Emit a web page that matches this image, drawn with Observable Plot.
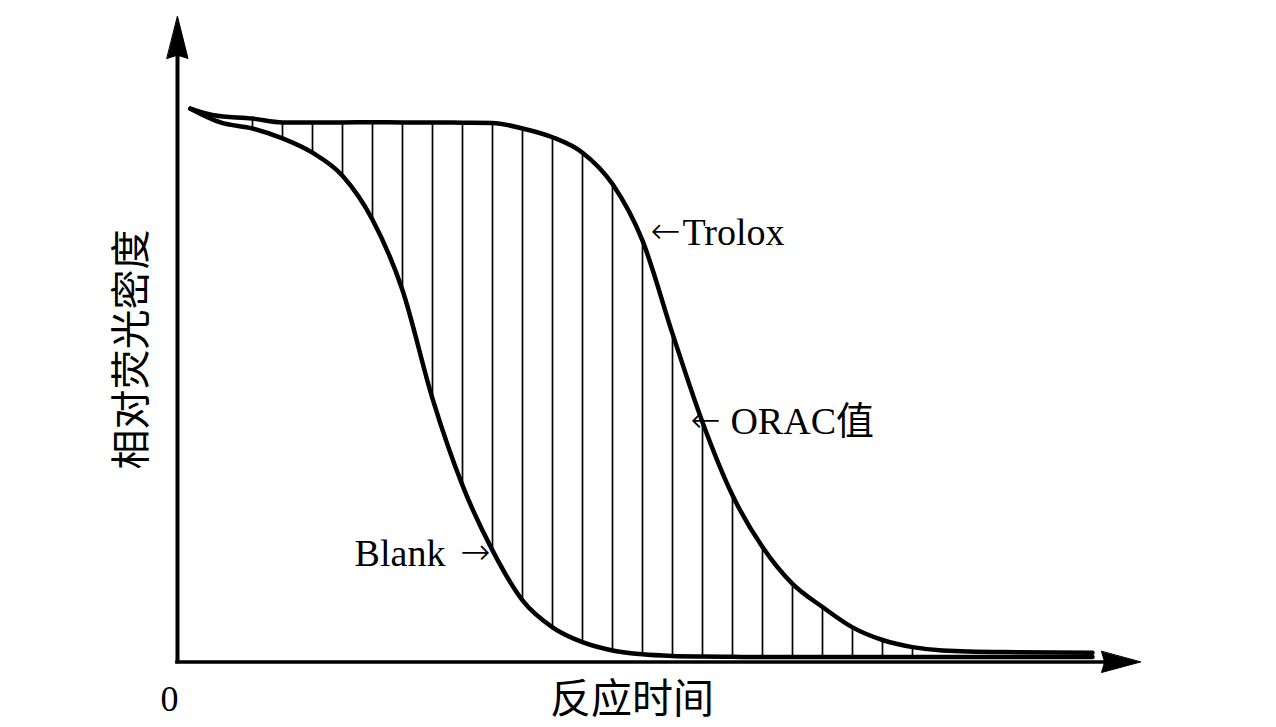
<!DOCTYPE html>
<html>
<head>
<meta charset="utf-8">
<script src="https://cdn.jsdelivr.net/npm/d3@7"></script>
<script src="https://cdn.jsdelivr.net/npm/@observablehq/plot@0.6"></script>
<style>
  html, body { margin: 0; padding: 0; background: #fff; }
  #chart svg { display: block; }
</style>
</head>
<body>
<div id="chart"></div>
<script>
// reaction time (arbitrary units) and relative fluorescence (%)
const troloxT = [0.43, 1.2, 2.5, 3.5, 4.5, 5.5, 6.5, 7.5, 8.5, 9.5, 10.5, 11.5, 12.5, 13.5, 14.5, 15.5, 16.5, 17.5, 18.5, 19.5, 20.5, 21.5, 22.5, 23.5, 24.5, 25.5, 27.5, 30.5]
const troloxY = [100.6, 99.4, 98.8, 98.1, 98.1, 98.1, 98.15, 98.1, 98.1, 98.05, 98.0, 97.0, 95.4, 92.6, 86.9, 76.6, 59.7, 43.6, 30.3, 20.9, 14.2, 10.0, 6.3, 4.0, 2.7, 2.1, 1.8, 1.7]

const blankT = [0.43, 1.43, 2.5, 3.5, 4.5, 5.5, 6.5, 7.5, 8.5, 9.5, 10.5, 11.5, 12.5, 13.5, 14.5, 15.5, 16.5, 17.5, 18.5, 19.5, 20.5, 21.5, 22.5, 23.5, 24.5, 27.5, 30.5]
const blankY = [100.6, 98.1, 97.0, 95.2, 92.6, 88.4, 80.4, 67.6, 47.9, 32.1, 20.3, 11.2, 6.3, 3.6, 2.1, 1.4, 1.1, 1.0, 0.95, 0.9, 0.9, 0.9, 0.9, 0.9, 0.9, 0.9, 0.9]

// vertical hatching that marks the area between the curves
const hatchT = [2.5, 3.5, 4.5, 5.5, 6.5, 7.5, 8.5, 9.5, 10.5, 11.5, 12.5, 13.5, 14.5, 15.5, 16.5, 17.5, 18.5, 19.5, 20.5, 21.5, 22.5, 23.5, 24.5]

const xMax = 32.1
const yMax = 117.36

const trolox = troloxT.map((t, i) => ({t, y: troloxY[i]}))
const blank = blankT.map((t, i) => ({t, y: blankY[i]}))
const topAt = new Map(trolox.map(d => [d.t, d.y]))
const botAt = new Map(blank.map(d => [d.t, d.y]))
const hatch = hatchT.map(t => ({t, y1: botAt.get(t), y2: topAt.get(t)}))

// filled arrowhead, tip at the anchor point
const head = {
  draw(ctx, l, r) {
    ctx.moveTo(0, -l)
    ctx.lineTo(r, 0)
    ctx.lineTo(0, -l * 0.08)
    ctx.lineTo(-r, 0)
    ctx.closePath()
  }
}

const serif = "'Liberation Serif', 'Times New Roman', 'Noto Sans CJK SC', serif"
const cjk = "'Noto Sans CJK SC', sans-serif"
const arrowFont = "'DejaVu Sans', sans-serif"

const txt = { fontSize: 38, fontFamily: serif, fill: '#000' }
const arr = { fontSize: 36, fontFamily: arrowFont, fontWeight: 200, fill: '#000' }

let chart = Plot.plot({
  width: 1276,
  height: 727,
  marginLeft: 177,
  marginRight: 136,
  marginTop: 16,
  marginBottom: 65.5,
  x: { domain: [0, xMax], axis: null },
  y: { domain: [0, yMax], axis: null },
  style: { background: '#fff', color: '#000' },
  marks: [
    Plot.ruleX(hatch, { x: 't', y1: 'y1', y2: 'y2', stroke: '#000', strokeWidth: 1.7 }),
    Plot.line(blank, { x: 't', y: 'y', stroke: '#000', strokeWidth: 4.5, curve: 'monotone-x' }),
    Plot.line(trolox, { x: 't', y: 'y', stroke: '#000', strokeWidth: 4.5, curve: 'monotone-x' }),
    // axes
    Plot.ruleY([0], { x1: -0.06, x2: xMax - 1, stroke: '#000', strokeWidth: 3.5 }),
    Plot.ruleX([0], { y1: -0.3, y2: yMax - 6, stroke: '#000', strokeWidth: 4 }),
    Plot.vector([{ x: xMax, y: 0 }], { x: 'x', y: 'y', rotate: 90, length: 39, r: 10.5, anchor: 'end', shape: head, fill: '#000', stroke: '#000', strokeWidth: 1 }),
    Plot.vector([{ x: 0, y: yMax }], { x: 'x', y: 'y', rotate: 0, length: 42, r: 10.5, anchor: 'end', shape: head, fill: '#000', stroke: '#000', strokeWidth: 1 }),
    Plot.text(['0'], { x: 0, y: 0, dx: -8, dy: 37, fontSize: 36, fontFamily: serif, fill: '#000' }),
    Plot.text(['反应时间'], { x: 15.15, y: 0, dy: 38, fontSize: 41, fontFamily: cjk, fill: '#000' }),
    Plot.text(['相对荧光密度'], { x: -1.5, y: 56.8, rotate: -90, fontSize: 40, fontFamily: cjk, fill: '#000' }),
    // annotations
    Plot.text(['←'], { x: 15.77, y: 78.3, textAnchor: 'start', ...arr }),
    Plot.text(['Trolox'], { x: 16.83, y: 78.1, textAnchor: 'start', ...txt }),
    Plot.text(['←'], { x: 17.1, y: 43.9, textAnchor: 'start', ...arr }),
    Plot.text(['ORAC值'], { x: 18.43, y: 43.7, textAnchor: 'start', ...txt }),
    Plot.text(['Blank'], { x: 8.93, y: 19.7, textAnchor: 'end', ...txt }),
    Plot.text(['→'], { x: 10.43, y: 19.9, textAnchor: 'end', ...arr })
  ]
})
d3.select('#chart').append(() => chart)
</script>
</body>
</html>
